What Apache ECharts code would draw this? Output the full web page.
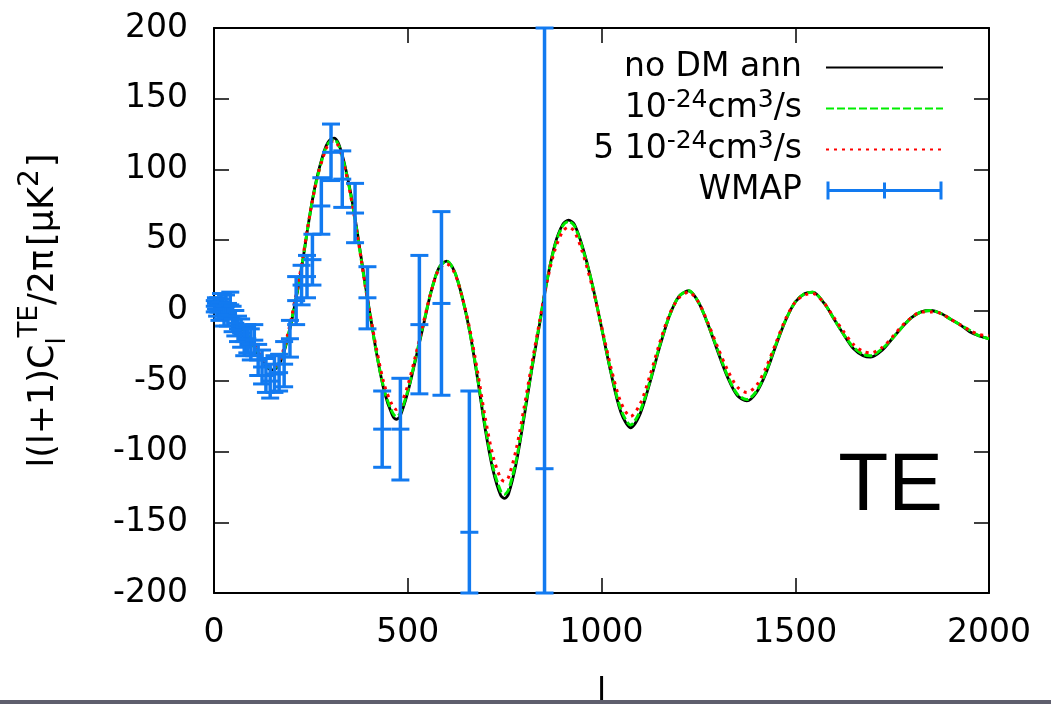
<!DOCTYPE html>
<html><head><meta charset="utf-8">
<script src="https://cdn.jsdelivr.net/npm/echarts@6/dist/echarts.min.js"></script>
<style>html,body{margin:0;padding:0;background:#fff}#c{width:1051px;height:704px}</style>
</head><body><div id="c"></div>
<script>
// multipole grid for the model curves
const ells = [2,10,20,30,40,50,60,70,80,90,100,110,120,130,140,150,160,170,180,190,200,210,220,230,240,250,260,270,280,290,300,310,320,330,340,350,360,370,380,390,400,
420,440,460,470,480,
500,520,540,560,580,600,620,640,660,680,700,720,740,
750,760,
780,800,820,840,860,880,900,
915,930,950,
975,1000,1025,1050,1075,1100,1125,1150,1175,1200,1225,1250,1275,1300,1325,1350,1375,1400,1425,1450,1475,1500,1525,
1545,
1575,1600,1625,1650,1675,
1695,
1725,1750,1775,1800,1825,1850,1875,1900,1925,1950,1975,2000];

// no DM annihilation
const noAnn = [1,1,0,-1,-3,-6,-9,-12,-15,-19,-24,-29,-34,-38,-41,-42,-41,-37,-30,-20,-8,6,20,37,55,72,87,99,109,117,121,122,119,111,100,87,72,55,37,19,2,
-31,-58,-74,-77,-75,
-58,-35,-11,13,30,35,28,10,-15,-48,-84,-113,-131,
-133,-130,
-108,-76,-42,-10,22,47,61,
64,61,46,
20,-12,-45,-72,-83,-73,-51,-26,-4,10,14,6,-10,-29,-47,-60,-64,-58,-44,-25,-7,6,12,
13,
5,-6,-17,-27,-32,
-33,
-28,-20,-12,-5,-1,0,-2,-6,-10,-15,-18,-20];

// 10^-24 cm^3/s
const ann1 = [1,1,0,-1,-3,-6,-9,-12,-15,-19,-24,-29,-33,-37,-40,-41,-40,-36,-29,-19,-7,7,21,37,55,72,86,98,108,116,120,121,118,110,99,86,71,54,36,18,1,
-31,-57,-72,-75,-73,
-57,-34,-10,13,30,35,28,10,-15,-47,-82,-111,-128,
-130,-127,
-106,-74,-41,-9,22,46,60,
63,60,45,
20,-12,-44,-70,-81,-71,-50,-25,-4,10,14,6,-10,-28,-46,-59,-63,-57,-43,-24,-7,6,12,
13,
5,-6,-17,-26,-31,
-32,
-27,-20,-12,-5,-1,0,-2,-6,-10,-14,-18,-20];

// 5 10^-24 cm^3/s
const ann5 = [1,1,0,-1,-3,-5,-8,-11,-14,-18,-22,-27,-32,-36,-39,-40,-39,-35,-27,-17,-5,9,23,39,56,72,86,98,107,115,119,120,117,109,98,85,70,53,36,18,2,
-28,-53,-67,-70,-68,
-53,-32,-9,13,29,33,27,10,-13,-43,-76,-103,-119,
-121,-118,
-98,-69,-38,-8,21,43,56,
59,56,42,
18,-11,-41,-65,-75,-66,-46,-23,-3,9,13,6,-9,-26,-42,-54,-58,-53,-40,-23,-6,6,11,
12,
5,-5,-15,-24,-29,
-30,
-26,-19,-11,-5,-1,-1,-2,-6,-10,-14,-17,-18];

// WMAP binned TE points
const wmapL   = [2,5,8,11,14,18,22,26,31,36,42,48,55,62,70,78,86,95,104,114,124,134,145,156,168,181,196,212,226,240,254,277,302,331,364,396,434,481,530,587,659,853];
const wmapV   = [3,5,1,4,-1,6,1,-4,3,-3,4,-6,-9,-13,-16,-22,-20,-24,-21,-35,-40,-46,-50,-45,-44,-38,-20,7,18,24,36,74,112,93,69,9,-84,-84,-10,5,-157,-112];
const wmapErr = [4,4,5,5,6,6,7,7,8,8,9,9,9,9,10,10,10,11,11,11,12,12,12,13,13,16,13,17,14,15,18,20,20,20,21,22,27,36,49,65,100,312];

const xTickStep = 500, yTickStep = 50;
const X_MIN = 0, X_MAX = 2000, Y_MIN = -200, Y_MAX = 200;

const FONT = '"DejaVu Sans", Verdana, sans-serif';
const BLUE = '#127af0';

const pairs = arr => ells.map((l, i) => [l, arr[i]]);

const legendNames = {
  'no DM ann': '{b|no DM ann}',
  'ann1': '{b|10}{sup|-24}{b|cm}{sup|3}{b|/s}',
  'ann5': '{b|5 10}{sup|-24}{b|cm}{sup|3}{b|/s}',
  'WMAP': '{b|WMAP}'
};

function renderErr(params, api) {
  const l = api.value(0), v = api.value(1), e = api.value(2);
  const lo = Math.max(v - e, Y_MIN), hi = Math.min(v + e, Y_MAX);
  const pLo = api.coord([l, lo]), pHi = api.coord([l, hi]), pC = api.coord([l, v]);
  const hw = 9;
  const st = { stroke: BLUE, lineWidth: 3 };
  const vst = { stroke: BLUE, lineWidth: 3.5 };
  const ch = [
    { type: 'line', shape: { x1: pLo[0], y1: pLo[1], x2: pHi[0], y2: pHi[1] }, style: vst },
    { type: 'line', shape: { x1: pLo[0] - hw, y1: pLo[1], x2: pLo[0] + hw, y2: pLo[1] }, style: st },
    { type: 'line', shape: { x1: pHi[0] - hw, y1: pHi[1], x2: pHi[0] + hw, y2: pHi[1] }, style: st },
    { type: 'line', shape: { x1: pC[0] - hw, y1: pC[1], x2: pC[0] + hw, y2: pC[1] }, style: st }
  ];
  return { type: 'group', children: ch };
}

const axisCommon = {
  axisLine: { show: true, onZero: false, lineStyle: { color: '#000', width: 2 } },
  axisTick: { show: true, inside: true, length: 15, lineStyle: { color: '#000', width: 1.5 } },
  splitLine: { show: false }
};

const chart = echarts.init(document.getElementById('c'), null, { renderer: 'canvas' });
chart.setOption({
  animation: false,
  backgroundColor: '#fff',
  grid: { left: 214, right: 62, top: 28, bottom: 111, containLabel: false, outerBoundsMode: 'none' },
  xAxis: [
    Object.assign({}, axisCommon, {
      type: 'value', min: X_MIN, max: X_MAX, interval: xTickStep, position: 'bottom',
      axisLabel: { fontSize: 33, color: '#000', fontFamily: FONT, margin: 24, formatter: v => String(v) },
      name: 'l', nameLocation: 'middle', nameGap: 84,
      nameTextStyle: { fontSize: 33, color: '#000', fontFamily: FONT }
    }),
    Object.assign({}, axisCommon, {
      type: 'value', min: X_MIN, max: X_MAX, interval: xTickStep, position: 'top',
      axisLabel: { show: false }
    })
  ],
  yAxis: [
    Object.assign({}, axisCommon, {
      type: 'value', min: Y_MIN, max: Y_MAX, interval: yTickStep, position: 'left',
      axisLabel: { fontSize: 33, color: '#000', fontFamily: FONT, margin: 26 },
      name: '{b|l(l+1)C}{sub|l}{sup|TE}{b|/2π}{g|[μK}{s2|2}{b|]}',
      nameLocation: 'middle', nameRotate: 90, nameGap: 143,
      nameTextStyle: {
        color: '#000', fontFamily: FONT, fontSize: 33,
        rich: {
          b: { fontSize: 35, fontFamily: FONT, color: '#000', lineHeight: 54 },
          g: { fontSize: 35, fontFamily: FONT, color: '#000', lineHeight: 54, padding: [0, 0, 0, 4] },
          sup: { fontSize: 26, fontFamily: FONT, color: '#000', verticalAlign: 'top', lineHeight: 26 },
          s2: { fontSize: 28, fontFamily: FONT, color: '#000', verticalAlign: 'top', lineHeight: 28, padding: [0, 2, 0, 0] },
          sub: { fontSize: 26, fontFamily: FONT, color: '#000', verticalAlign: 'bottom', lineHeight: 26 }
        }
      }
    }),
    Object.assign({}, axisCommon, {
      type: 'value', min: Y_MIN, max: Y_MAX, interval: yTickStep, position: 'right',
      axisLabel: { show: false }
    })
  ],
  legend: {
    orient: 'vertical', right: 102, top: 42, align: 'right',
    itemWidth: 117, itemHeight: 18, itemGap: 0,
    itemStyle: { opacity: 0 },
    data: [
      { name: 'no DM ann' },
      { name: 'ann1' },
      { name: 'ann5' },
      { name: 'WMAP', icon: 'path://M0,7.5h116v3H0z M0,0h3v18H0z M56.5,1h3v16h-3z M113,0h3v18h-3z', itemStyle: { color: BLUE, opacity: 1 } }
    ],
    formatter: n => legendNames[n],
    textStyle: {
      fontSize: 33, fontFamily: FONT, color: '#000', lineHeight: 41, padding: [0, 19, 0, 0],
      rich: {
        b: { fontSize: 33, fontFamily: FONT, color: '#000', lineHeight: 41 },
        sup: { fontSize: 25, fontFamily: FONT, color: '#000', verticalAlign: 'top', lineHeight: 25 }
      }
    },
    selectedMode: false
  },
  series: [
    { name: 'no DM ann', type: 'line', data: pairs(noAnn), showSymbol: false, symbol: 'none',
      smooth: 0.3, lineStyle: { color: '#000', width: 2.8 }, itemStyle: { color: '#000' }, z: 2 },
    { name: 'ann1', type: 'line', data: pairs(ann1), showSymbol: false, symbol: 'none',
      smooth: 0.3, lineStyle: { color: '#00ee00', width: 3, type: [8, 3] }, itemStyle: { color: '#00ee00' }, z: 3 },
    { name: 'ann5', type: 'line', data: pairs(ann5), showSymbol: false, symbol: 'none',
      smooth: 0.3, lineStyle: { color: '#ff0000', width: 3, type: [3, 5] }, itemStyle: { color: '#ff0000' }, z: 4 },
    { name: 'WMAP', type: 'custom', renderItem: renderErr, clip: false,
      data: wmapL.map((l, i) => [l, wmapV[i], wmapErr[i]]),
      encode: { x: 0, y: 1 }, itemStyle: { color: BLUE }, z: 5 }
  ],
  graphic: [
    { type: 'text', right: 108, top: 446, style: { text: 'TE', fontSize: 82, fontFamily: '"Liberation Sans", Arial, sans-serif', fill: '#000' } },
    { type: 'rect', left: 0, top: 700, shape: { width: 1051, height: 4 }, style: { fill: '#5f5f6d' }, z: 100 }
  ]
});
</script></body></html>
